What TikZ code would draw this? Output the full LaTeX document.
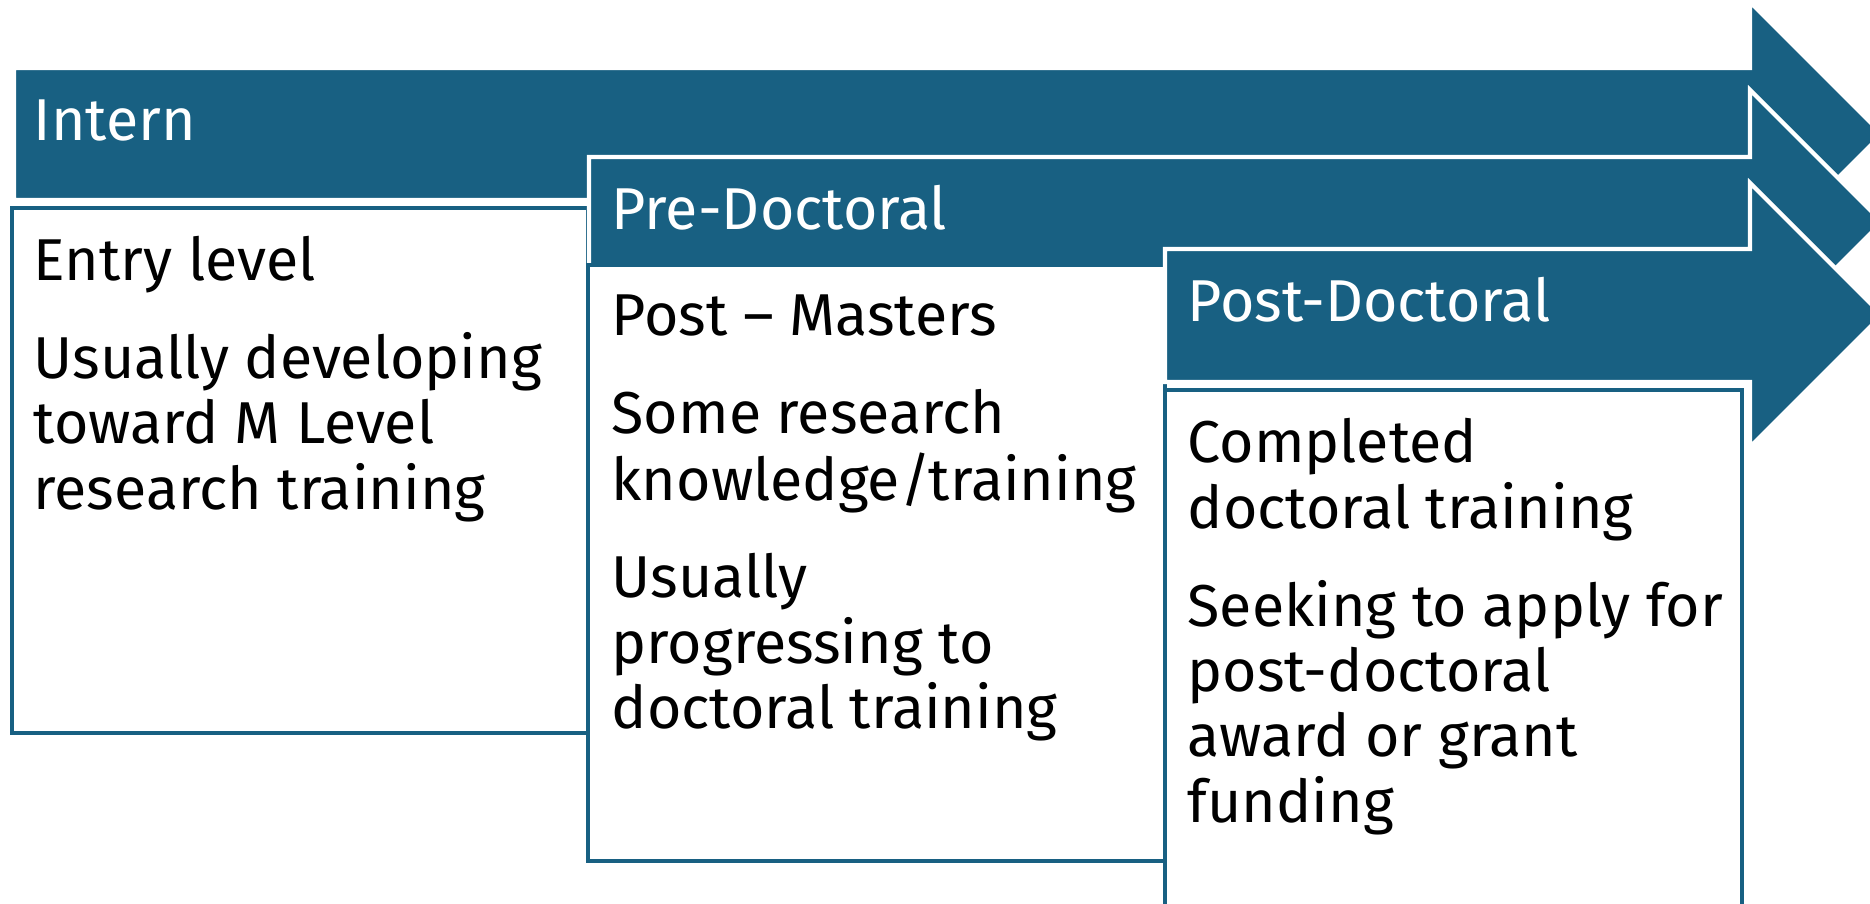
\documentclass[tikz,border=0pt]{standalone}
\usepackage{fontspec}
\setmainfont{Fira Sans}
\usetikzlibrary{positioning}
\definecolor{stageblue}{RGB}{24,96,130}
\tikzset{
    stagearrow/.style={
           fill=stageblue,
           draw=white, line width=1.2pt,
           line join=miter,
           },
    stagebox/.style={
           fill=white,
           draw=stageblue, line width=1.1pt,
           },
    stagetitle/.style={
           anchor=base west,
           inner sep=0pt,
           text=white,
           font=\fontsize{16.8}{18.6}\selectfont,
           },
    stagetext/.style={
           anchor=base west,
           inner sep=0pt,
           text=black,
           font=\fontsize{16.8}{18.6}\selectfont,
           },
}

\begin{document}
\begin{tikzpicture}[x=0.01cm,y=-0.01cm]
 % fix the page to the size of the reference
 \useasboundingbox (0,0) rectangle (1870,904);

 % ARROW Intern
 \draw[stagearrow] (14,68) -- (1750,68) -- (1750,2) -- (1882,134)
       -- (1750,266) -- (1750,200) -- (14,200) -- cycle;
 \node[stagetitle] (intern) at (33,141) {Intern};

 % BOX Intern
 \draw[stagebox] (12,208) rectangle (588,733);
 \node[stagetext] (internText) at (33,281)
 {%
 \begin{tabular}[t]{@{}l@{}}
  Entry level\\[9pt]
  Usually developing\\
  toward M Level\\
  research training
 \end{tabular}
 };

 % ARROW Pre-Doctoral
 \draw[stagearrow] (589,157) -- (1750,157) -- (1750,90) -- (1882,222)
       -- (1750,354) -- (1750,288) -- (589,288) -- cycle;
 \node[stagetitle] (predoc) at (611,230) {Pre-Doctoral};

 % BOX Pre-Doctoral
 \draw[stagebox] (588,265) rectangle (1165,861);
 \node[stagetext] (predocText) at (611,336)
 {%
 \begin{tabular}[t]{@{}l@{}}
  Post -- Masters\\[9pt]
  Some research\\
  knowledge/training\\[9pt]
  Usually\\
  progressing to\\
  doctoral training
 \end{tabular}
 };

 % ARROW Post-Doctoral
 \draw[stagearrow] (1165,249) -- (1750,249) -- (1750,183) -- (1882,315)
       -- (1750,447) -- (1750,382) -- (1165,382) -- cycle;
 \node[stagetitle] (postdoc) at (1187,322) {Post-Doctoral};

 % BOX Post-Doctoral
 \draw[stagebox] (1165,390) rectangle (1742,950);
 \node[stagetext] (postdocText) at (1187,463)
 {%
 \begin{tabular}[t]{@{}l@{}}
  Completed\\
  doctoral training\\[9pt]
  Seeking to apply for\\
  post-doctoral\\
  award or grant\\
  funding
 \end{tabular}
 };
\end{tikzpicture}
\end{document}
